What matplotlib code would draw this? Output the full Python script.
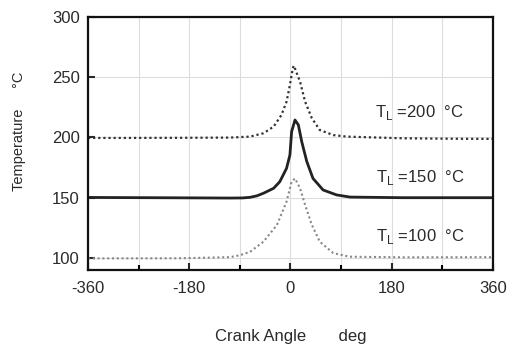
import matplotlib.pyplot as plt
import matplotlib

matplotlib.rcParams['font.family'] = 'Liberation Sans'
matplotlib.rcParams['mathtext.fontset'] = 'custom'
matplotlib.rcParams['mathtext.rm'] = 'Liberation Sans'
matplotlib.rcParams['axes.unicode_minus'] = False

# T_L = 200 C (dotted, dark)
x200 = [-360, -300, -200, -107, -72, -48, -30, -16, -7, -1, 4, 6, 17, 26, 38, 52, 76, 100, 200, 300, 360]
y200 = [199.6, 199.6, 199.7, 199.9, 200.7, 203.5, 209, 218.7, 229.7, 243.6, 257.4, 259.6, 246.3, 229.7, 216, 206.2, 202, 200.7, 199.3, 198.9, 198.8]

# T_L = 150 C (solid)
x150 = [-360, -200, -107, -85, -72, -60, -48, -30, -19, -7, -1, 2, 8, 14, 20, 29, 40, 58, 82, 106, 200, 360]
y150 = [150.2, 149.9, 149.7, 149.8, 150.3, 151.5, 153.7, 157.8, 163.3, 174.4, 185.5, 204.8, 214.5, 210.4, 196.5, 180, 166, 156.4, 152.3, 150.5, 150, 150]

# T_L = 100 C (dotted, light)
x100 = [-360, -200, -108, -90, -72, -48, -24, -7, 2, 8, 17, 26, 38, 52, 76, 105, 200, 360]
y100 = [99.6, 99.7, 100.6, 102.2, 105, 113.5, 127.4, 146.7, 163.3, 166, 157.8, 144, 127.4, 113.5, 104, 101, 100.5, 100.6]

labels = ['T$_{\\rm L}$ =200  °C', 'T$_{\\rm L}$ =150  °C', 'T$_{\\rm L}$ =100  °C']
label_x = [150, 152, 152]
label_y = [221, 167, 117.5]

fig = plt.figure(figsize=(5.13, 3.47), dpi=100)
ax = fig.add_axes([0.1715, 0.222, 0.7895, 0.729])

ax.plot(x200, y200, linestyle=(0, (1, 1.3)), color='#333333', linewidth=1.6)
ax.plot(x150, y150, linestyle='-', color='#222222', linewidth=2.0)
ax.plot(x100, y100, linestyle=(0, (1, 1.3)), color='#888888', linewidth=1.5)

for lab, lx, ly in zip(labels, label_x, label_y):
    ax.text(lx, ly, lab, fontsize=12, color='#2a2a2a', va='center', ha='left')

ax.set_xlim(-360, 360)
ax.set_ylim(90, 300)
ax.set_xticks([-360, -180, 0, 180, 360])
ax.set_xticks([-270, -90, 90, 270], minor=True)
ax.set_yticks([100, 150, 200, 250, 300])
ax.grid(which='both', color='#dddddd', linewidth=0.8)
ax.set_axisbelow(True)

ax.tick_params(which='major', direction='in', length=5, width=1.5, labelsize=12, colors='#2a2a2a')
ax.tick_params(which='minor', direction='in', length=3.5, width=1.5)
ax.tick_params(axis='x', which='major', pad=8)
ax.tick_params(axis='y', which='major', pad=6)
for s in ax.spines.values():
    s.set_linewidth(1.6)
    s.set_color('#111111')

ax.set_xlabel('Crank Angle       deg', fontsize=12, color='#2a2a2a')
ax.xaxis.set_label_coords(0.5, -0.232)
ax.set_ylabel('Temperature     °C', fontsize=10.5, color='#2a2a2a')
ax.yaxis.set_label_coords(-0.153, 0.549)

fig.savefig('out.png', dpi=100)
